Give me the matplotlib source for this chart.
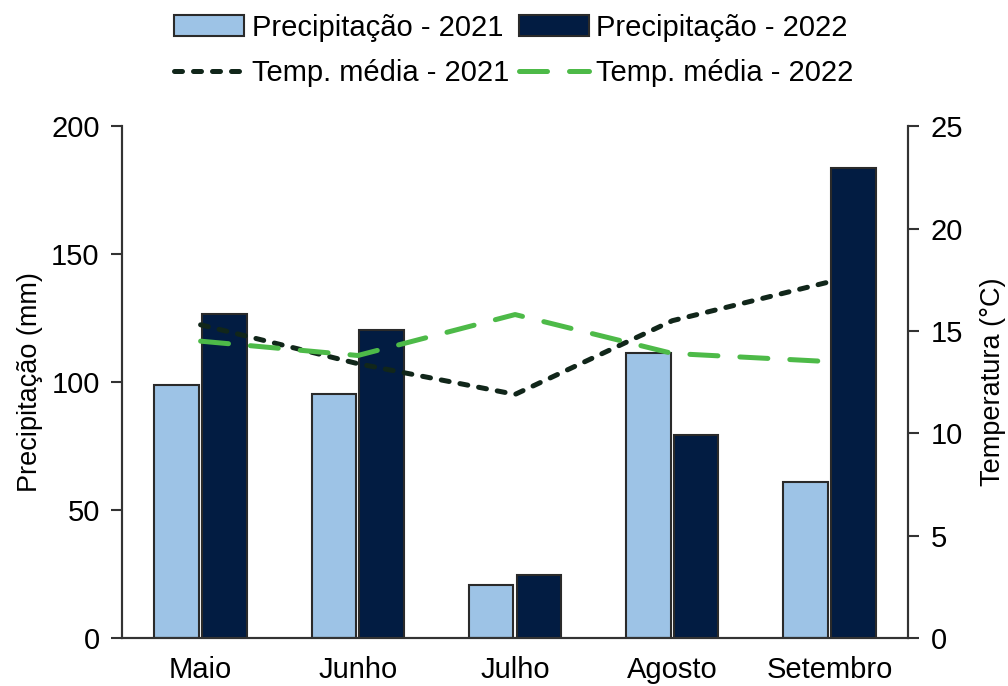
import numpy as np
import matplotlib.pyplot as plt

plt.rcParams['font.family'] = ['Liberation Sans', 'DejaVu Sans']

# dados mensais
meses = ['Maio', 'Junho', 'Julho', 'Agosto', 'Setembro']
precip_2021 = [98.8, 95.3, 20.7, 111.4, 61.0]
precip_2022 = [126.6, 120.3, 24.7, 79.3, 183.8]
temp_2021 = [15.3, 13.4, 11.9, 15.5, 17.4]
temp_2022 = [14.5, 13.8, 15.8, 13.9, 13.5]

cor_2021 = '#9DC3E6'
cor_2022 = '#021C42'
cor_t2021 = '#11261A'
cor_t2022 = '#4DBA48'
cor_eixo = '#333333'

x = np.arange(len(meses))
largura = 0.283
desloc = 0.152

fig = plt.figure(figsize=(10.08, 6.86), dpi=100)
ax = fig.add_axes([0.121, 0.070, 0.780, 0.746])
ax2 = ax.twinx()

b1 = ax.bar(x - desloc, precip_2021, width=largura, color=cor_2021,
            edgecolor='#2a2a2a', linewidth=1.5, label='Precipitação - 2021', zorder=2)
b2 = ax.bar(x + desloc, precip_2022, width=largura, color=cor_2022,
            edgecolor='#2a2a2a', linewidth=1.5, label='Precipitação - 2022', zorder=2)

l1, = ax2.plot(x, temp_2021, color=cor_t2021, linewidth=3.6, linestyle=(0, (1.6, 2.2)),
               dash_capstyle='round', label='Temp. média - 2021')
l2, = ax2.plot(x, temp_2022, color=cor_t2022, linewidth=3.6, linestyle=(0, (5.6, 4.4)),
               dash_capstyle='round', label='Temp. média - 2022')

ax.set_xlim(-0.5, 4.5)
ax.set_ylim(0, 200)
ax.set_yticks([0, 50, 100, 150, 200])
ax2.set_ylim(0, 25)
ax2.set_yticks([0, 5, 10, 15, 20, 25])
ax.set_xticks(x)
ax.set_xticklabels(meses)

for a in (ax, ax2):
    a.spines['top'].set_visible(False)
    for s in ('left', 'right', 'bottom'):
        a.spines[s].set_color(cor_eixo)
        a.spines[s].set_linewidth(1.5)
    a.tick_params(axis='y', direction='out', length=8, width=1.5, color=cor_eixo,
                  labelsize=21, pad=8)
ax.tick_params(axis='x', length=0, labelsize=21, pad=13)

ax.set_ylabel('Precipitação (mm)', fontsize=19.5, labelpad=6)
ax2.set_ylabel('Temperatura (°C)', fontsize=19.5, labelpad=12)

fig.legend([b1, l1, b2, l2],
           ['Precipitação - 2021', 'Temp. média - 2021',
            'Precipitação - 2022', 'Temp. média - 2022'],
           loc='upper center', bbox_to_anchor=(0.51, 1.018), ncol=2, frameon=False,
           fontsize=21, handlelength=2.4, handletextpad=0.25, columnspacing=0.35,
           labelspacing=0.6)

fig.savefig('out.png', dpi=100)
